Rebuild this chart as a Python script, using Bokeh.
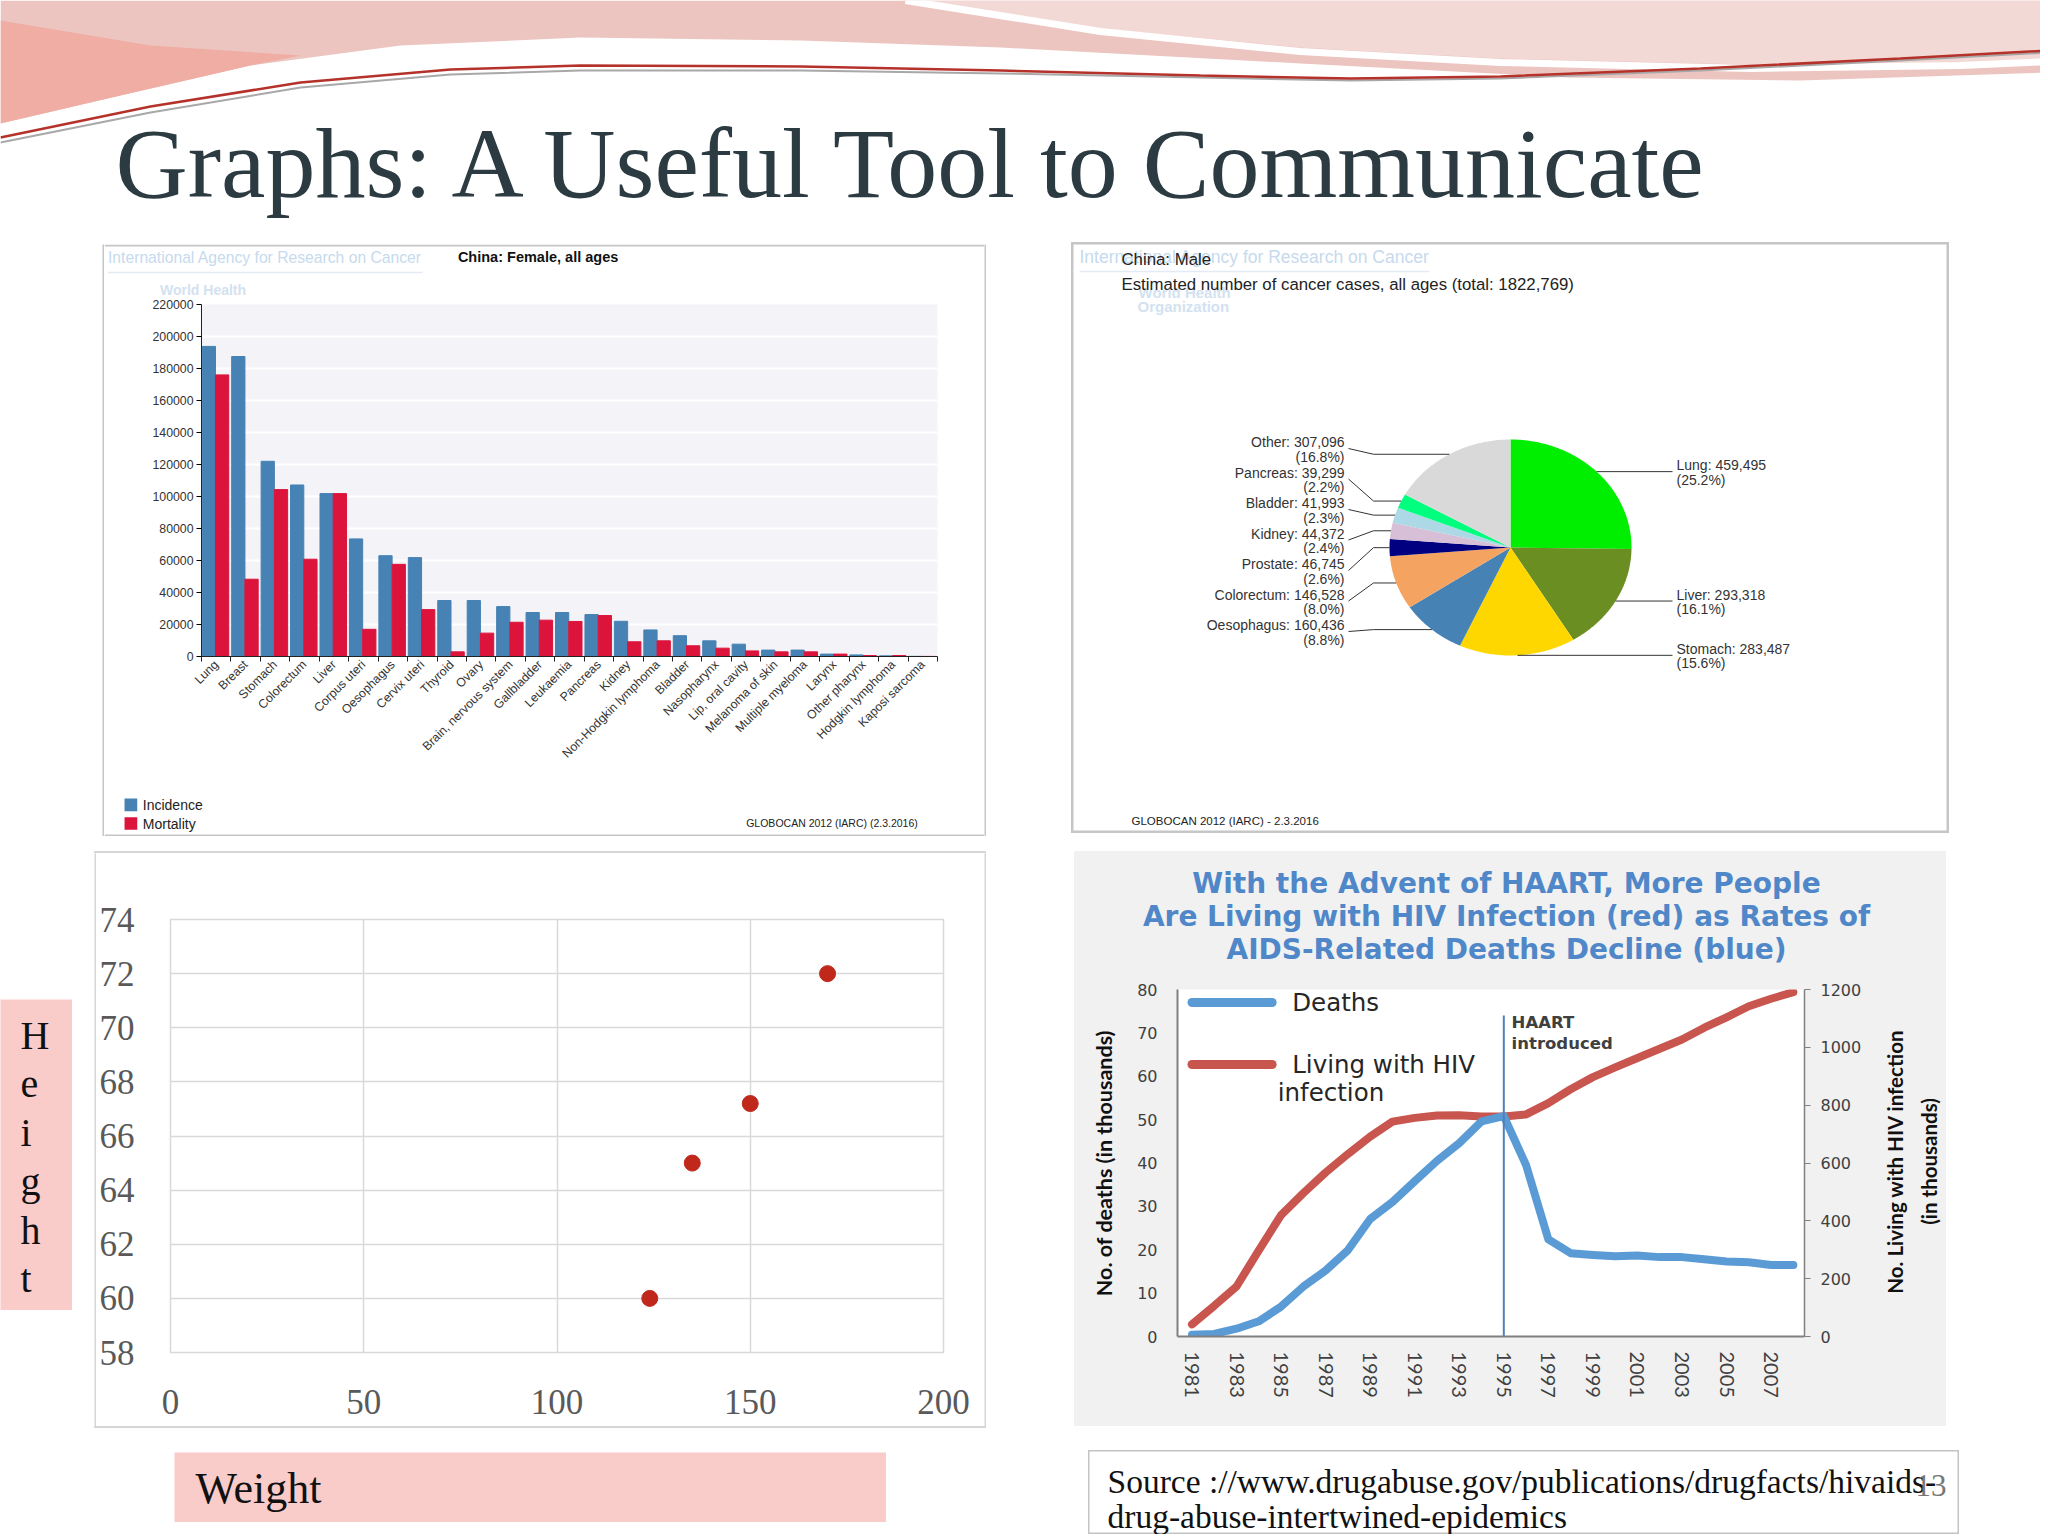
import numpy as np
from bokeh.plotting import figure
from bokeh.models import (Range1d, FixedTicker, CustomJSTickFormatter, NumeralTickFormatter,
                          LinearAxis, Spacer)
from bokeh.layouts import row, column
from bokeh.core.properties import value
from bokeh.embed import file_html
from bokeh.resources import INLINE

SANS = "Liberation Sans"
SERIF = "Liberation Serif"

# ---------------- data ----------------
slide_title = ["Graphs: A Useful Tool to Communicate"]

bar_categories = ["Lung", "Breast", "Stomach", "Colorectum", "Liver", "Corpus uteri", "Oesophagus",
                  "Cervix uteri", "Thyroid", "Ovary", "Brain, nervous system", "Gallbladder",
                  "Leukaemia", "Pancreas", "Kidney", "Non-Hodgkin lymphoma", "Bladder",
                  "Nasopharynx", "Lip, oral cavity", "Melanoma of skin", "Multiple myeloma",
                  "Larynx", "Other pharynx", "Hodgkin lymphoma", "Kaposi sarcoma"]
bar_incidence = [193800, 187500, 122000, 107200, 101800, 73500, 63000, 61800, 35000, 35000,
                 31200, 27500, 27500, 26200, 22000, 16600, 13000, 9800, 7700, 4000, 4000,
                 1500, 1000, 400, 100]
bar_mortality = [176000, 48300, 104300, 60800, 101800, 17000, 57600, 29300, 2900, 14600,
                 21400, 22700, 21900, 25600, 9200, 9800, 6700, 5200, 3500, 2900, 2900,
                 1500, 600, 600, 50]
bar_yticks = [0, 20000, 40000, 60000, 80000, 100000, 120000, 140000, 160000, 180000, 200000, 220000]
bar_series = ["Incidence", "Mortality"]
bar_colors = ["#4682b4", "#dc143c"]

pie_sites = ["Lung", "Liver", "Stomach", "Oesophagus", "Colorectum", "Prostate", "Kidney",
             "Bladder", "Pancreas", "Other"]
pie_cases = [459495, 293318, 283487, 160436, 146528, 46745, 44372, 41993, 39299, 307096]
pie_colors = ["#00ee00", "#6b8e23", "#ffd700", "#4682b4", "#f4a460", "#000080", "#d8bfd8",
              "#add8e6", "#00ff7f", "#d9d9d9"]
pie_total_text = "1822,769"

scatter_weight = [124, 135, 150, 170]
scatter_height = [60, 65, 67.2, 72]
scatter_xticks = [0, 50, 100, 150, 200]
scatter_yticks = [58, 60, 62, 64, 66, 68, 70, 72, 74]

hiv_years = [1981, 1982, 1983, 1984, 1985, 1986, 1987, 1988, 1989, 1990, 1991, 1992, 1993, 1994,
             1995, 1996, 1997, 1998, 1999, 2000, 2001, 2002, 2003, 2004, 2005, 2006, 2007, 2008]
hiv_deaths = [0.4, 0.6, 1.8, 3.5, 6.9, 11.5, 15.2, 19.9, 27.1, 31.0, 35.8, 40.5, 44.6, 49.6,
              50.8, 39.5, 22.4, 19.2, 18.8, 18.5, 18.7, 18.3, 18.3, 17.8, 17.3, 17.1, 16.5, 16.5]
hiv_living = [42, 106, 173, 298, 420, 496, 567, 631, 691, 743, 756, 764, 765, 761,
              761, 768, 807, 855, 897, 931, 963, 995, 1027, 1068, 1104, 1142, 1168, 1191]
hiv_year_ticks = [1981, 1983, 1985, 1987, 1989, 1991, 1993, 1995, 1997, 1999, 2001, 2003, 2005, 2007]
hiv_left_ticks = [0, 10, 20, 30, 40, 50, 60, 70, 80]
hiv_right_ticks = [0, 200, 400, 600, 800, 1000, 1200]
hiv_title = ["With the Advent of HAART, More People",
             "Are Living with HIV Infection (red) as Rates of",
             "AIDS-Related Deaths Decline (blue)"]
haart_year = [1995]
haart_top = [74]

source_lines = ["Source ://www.drugabuse.gov/publications/drugfacts/hivaids-",
                "drug-abuse-intertwined-epidemics"]
page_number = ["13"]


def noalign(p):
    if "frame_align" in p.properties():
        p.frame_align = False
    return p


def blank(w, h, bg="white", outline=None, ow=1):
    """Figure whose frame is the whole canvas, in pixel units with y downward."""
    p = figure(width=w, height=h, x_range=Range1d(0, w), y_range=Range1d(h, 0),
               x_axis_type=None, y_axis_type=None, toolbar_location=None,
               output_backend="svg", min_border=0, background_fill_color=bg,
               border_fill_color=bg, outline_line_color=outline, outline_line_width=ow)
    return noalign(p)


def hrule(w, color):
    return Spacer(width=w, height=2, styles={"background-color": color})


def stext(p, x, y, t, size, color="#222222", font=SANS, style="normal", align="left",
          baseline="middle", angle=0.0):
    p.text(x=[x], y=[y], text=[t], text_font=value(font), text_font_size=size,
           text_color=color, text_font_style=style, text_align=align,
           text_baseline=baseline, angle=angle)


# ---------------- header ----------------
hdr = blank(2040, 240)
hdr.patch([0, 2048, 2048, 1800, 1568, 1300, 1000, 800, 580, 400, 250, 120, 0],
          [0, 0, 72, 80, 77, 63, 47, 40, 37, 45, 65, 95, 123],
          color="#ecc5c1", line_color=None)
hdr.patch([0, 150, 300, 250, 120, 0], [20, 45, 55, 65, 95, 123],
          color="#f1a89e", line_color=None, alpha=0.85)
hdr.patch([900, 2048, 2048, 1960, 1750, 1500, 1300, 1100],
          [0, 0, 58, 62, 64, 58, 47, 28], color="#f3d9d5", line_color=None)
hdr.line([905, 1100, 1300, 1500, 1750, 1960, 2048], [0, 31, 51, 62, 68, 65, 61],
         line_color="white", line_width=7)
hdr.line([0, 150, 300, 450, 580, 800, 1000, 1200, 1350, 1500, 1700, 1900, 2048],
         [142, 112, 87, 74, 70, 70, 73, 77, 80, 78, 70, 60, 52],
         line_color="#a8a8a8", line_width=2)
hdr.line([0, 150, 300, 450, 580, 800, 1000, 1200, 1350, 1500, 1700, 1900, 2048],
         [137, 106, 82, 69, 65, 66, 70, 75, 78, 76, 68, 58, 50],
         line_color="#b5322b", line_width=2.5)
hdr.text(x=[115], y=[163], text=slide_title, text_font=value(SERIF), text_font_size="100px",
         text_color="#2c3b42", text_baseline="middle", text_align="left")

# ---------------- bar chart (China female) ----------------
BCOL = "#c6c6c6"
bar_top = blank(880, 54)
bar_top.quad(left=[0], right=[880], top=[0], bottom=[2], color=BCOL, line_color=None)
stext(bar_top, 3.5, 12.7, "International Agency for Research on Cancer", "15.7px", color="#c6daed")
bar_top.line([3.5, 318], [28, 28], line_color="#e3ecf5", line_width=1.5)
stext(bar_top, 55.5, 45, "World Health", "14px", color="#d3e2f0", style="bold")
stext(bar_top, 353.4, 12.7, "China: Female, all ages", "14.5px", color="#111111", style="bold")

bar = figure(width=880, height=470, x_range=Range1d(0, 25), y_range=Range1d(0, 220000),
             min_border_left=97, min_border_right=47, min_border_top=6, min_border_bottom=110,
             toolbar_location=None, output_backend="svg", background_fill_color="#f4f3f7",
             border_fill_color="white", outline_line_color=None)
noalign(bar)
idx = np.arange(len(bar_categories))
bar.vbar(x=idx + 0.25, top=bar_incidence, width=0.45, color=bar_colors[0])
bar.vbar(x=idx + 0.70, top=bar_mortality, width=0.45, color=bar_colors[1])
bar.xgrid.visible = False
bar.ygrid.ticker = FixedTicker(ticks=bar_yticks)
bar.ygrid.grid_line_color = "white"
bar.ygrid.grid_line_width = 2
bar.xaxis.ticker = FixedTicker(ticks=list(idx + 0.5), minor_ticks=list(range(len(bar_categories) + 1)))
bar.xaxis.formatter = CustomJSTickFormatter(
    args=dict(labels=bar_categories),
    code="const i = Math.floor(tick); return (i >= 0 && i < labels.length) ? labels[i] : '';")
bar.xaxis.major_label_orientation = np.pi / 4
bar.xaxis.major_tick_line_color = None
bar.xaxis.major_tick_out = 5
bar.xaxis.major_tick_in = 0
bar.xaxis.minor_tick_line_color = "#222222"
bar.xaxis.minor_tick_out = 5
bar.xaxis.minor_tick_in = 0
bar.xaxis.major_label_standoff = 1
bar.yaxis.ticker = FixedTicker(ticks=bar_yticks)
bar.yaxis.formatter = NumeralTickFormatter(format="0")
bar.yaxis.major_tick_out = 5
bar.yaxis.major_tick_in = 0
bar.yaxis.minor_tick_line_color = None
bar.yaxis.major_label_standoff = 3
for ax in (bar.xaxis, bar.yaxis):
    ax.axis_line_color = "#222222"
    ax.major_label_text_font = SANS
    ax.major_label_text_font_size = "12.3px"
    ax.major_label_text_color = "#333333"

bar_foot = blank(880, 68)
bar_foot.quad(left=[0], right=[880], top=[66], bottom=[68], color=BCOL, line_color=None)
bar_foot.rect(x=[26.4, 26.4], y=[36.4, 55], width=12.7, height=12.7, fill_color=bar_colors,
              line_color=None)
bar_foot.text(x=[38.3, 38.3], y=[36.4, 55], text=bar_series, text_font=value(SANS),
              text_font_size="14px", text_color="#222222", text_baseline="middle")
stext(bar_foot, 641.7, 54.3, "GLOBOCAN 2012 (IARC) (2.3.2016)", "10.5px", color="#222222")

bar_panel = row(blank(2, 592, bg=BCOL), column(bar_top, bar, bar_foot), blank(2, 592, bg=BCOL))

# ---------------- pie chart (China male) ----------------
pie = blank(878, 591, outline=BCOL, ow=4)
cx, cy, rx, ry = 439.0, 305.0, 121.0, 108.0
vals = np.array(pie_cases, dtype=float)
fr = vals / vals.sum()
cum = np.concatenate([[0.0], np.cumsum(fr)])
xs, ys, mids = [], [], []
for i in range(len(vals)):
    th = np.radians(90 - 360 * np.linspace(cum[i], cum[i + 1], 80))
    xs.append(np.concatenate([[cx], cx + rx * np.cos(th)]))
    ys.append(np.concatenate([[cy], cy - ry * np.sin(th)]))
    mids.append(np.radians(90 - 360 * (cum[i] + cum[i + 1]) / 2))
pie.patches(xs, ys, fill_color=pie_colors, line_color=None)
ex = [cx + rx * np.cos(m) for m in mids]
ey = [cy - ry * np.sin(m) for m in mids]
txt = [f"{s}: {v:,}\n({100 * f:.1f}%)" for s, v, f in zip(pie_sites, pie_cases, fr)]
left = sorted([i for i in range(len(vals)) if np.cos(mids[i]) < 0], key=lambda i: ey[i])
right = [i for i in range(len(vals)) if np.cos(mids[i]) >= 0]
lx, ly, lt, lxs, lys = [], [], [], [], []
for k, i in enumerate(left):
    y1 = 199 + 30.5 * k
    lx.append(273); ly.append(y1 - 7.5); lt.append(txt[i])
    lxs.append([277, 302, ex[i]]); lys.append([y1 + 7, ey[i], ey[i]])
rx_, ry_, rt = [], [], []
for i in right:
    rx_.append(605); ry_.append(ey[i] - 7 - 7.5); rt.append(txt[i])
    lxs.append([ex[i], 601]); lys.append([ey[i], ey[i]])
pie.multi_line(lxs, lys, line_color="#333333", line_width=1)
pie.text(x=lx, y=ly, text=lt, text_font=value(SANS), text_font_size="14px",
         text_color="#333333", text_align="right", text_baseline="top", text_line_height=0.91)
pie.text(x=rx_, y=ry_, text=rt, text_font=value(SANS), text_font_size="14px",
         text_color="#333333", text_align="left", text_baseline="top", text_line_height=0.91)
stext(pie, 8, 14, "International Agency for Research on Cancer", "17.5px", color="#c6daed")
pie.line([8, 358], [29, 29], line_color="#e3ecf5", line_width=1.5)
pie.text(x=[67, 66], y=[50, 64], text=["World Health", "Organization"], text_font=value(SANS),
         text_font_size="15px", text_font_style="bold", text_color="#d3e2f0", text_baseline="middle")
pie.text(x=[50, 50], y=[17, 42],
         text=["China: Male", f"Estimated number of cancer cases, all ages (total: {pie_total_text})"],
         text_font=value(SANS), text_font_size="16.8px", text_color="#222222", text_baseline="middle")
stext(pie, 60, 578, "GLOBOCAN 2012 (IARC) - 2.3.2016", "11.5px", color="#222222")

# ---------------- scatter (Weight vs Height) ----------------
SCOL = "#d6d6d6"
sc = figure(width=888, height=573, x_range=Range1d(0, 200), y_range=Range1d(58, 74),
            min_border_left=73, min_border_right=41, min_border_top=66, min_border_bottom=74,
            toolbar_location=None, output_backend="svg", background_fill_color="white",
            border_fill_color="white", outline_line_color="#d9d9d9", outline_line_width=1.5)
noalign(sc)
sc.xaxis.ticker = FixedTicker(ticks=scatter_xticks)
sc.yaxis.ticker = FixedTicker(ticks=scatter_yticks)
sc.xgrid.ticker = FixedTicker(ticks=scatter_xticks)
sc.ygrid.ticker = FixedTicker(ticks=scatter_yticks)
for g in (sc.xgrid, sc.ygrid):
    g.grid_line_color = "#d9d9d9"
    g.grid_line_width = 1.5
for ax in (sc.xaxis, sc.yaxis):
    ax.axis_line_color = None
    ax.major_tick_line_color = None
    ax.minor_tick_line_color = None
    ax.major_tick_out = 0
    ax.major_label_text_font = SERIF
    ax.major_label_text_font_size = "35px"
    ax.major_label_text_color = "#595959"
sc.xaxis.major_label_standoff = 37
sc.yaxis.major_label_standoff = 36
sc.scatter(scatter_weight, scatter_height, size=16, color="#c0281c")
sc_panel = column(hrule(892, SCOL),
                  row(blank(2, 573, bg=SCOL), sc, blank(2, 573, bg=SCOL)),
                  hrule(892, SCOL))

# ---------------- HIV chart ----------------
HBG = "#f1f1f1"
hiv_top = blank(872, 126, bg=HBG)
hiv_top.text(x=[432, 432, 432], y=[31.5, 64.8, 98], text=hiv_title, text_font=value("DejaVu Sans"),
             text_font_size="28px", text_font_style="bold", text_color="#4f87c8",
             text_align="center", text_baseline="middle")
hiv_left = blank(56, 449, bg=HBG)
stext(hiv_left, 29, 183, "No. of deaths  (in thousands)", "21.5px", color="#111111", font="Lato",
      style="bold", align="center", angle=np.pi / 2)
hiv_right = blank(75, 449, bg=HBG)
stext(hiv_right, 23, 184, "No. Living with HIV infection", "20.5px", color="#111111", font="Lato",
      style="bold", align="center", angle=np.pi / 2)
stext(hiv_right, 57, 184, "(in thousands)", "20.5px", color="#111111", font="Lato",
      style="bold", align="center", angle=np.pi / 2)

hiv = figure(width=741, height=449, x_range=Range1d(1980.35, 2008.5), y_range=Range1d(0, 80),
             min_border_left=47, min_border_right=67, min_border_top=12, min_border_bottom=90,
             toolbar_location=None, output_backend="svg", background_fill_color="white",
             border_fill_color=HBG, outline_line_color=None)
noalign(hiv)
hiv.extra_y_ranges = {"right": Range1d(0, 1200)}
hiv.grid.visible = False
hiv.xaxis.ticker = FixedTicker(ticks=hiv_year_ticks)
hiv.xaxis.major_label_orientation = "vertical"
hiv.xaxis.major_label_text_font = "Lato"
hiv.xaxis.major_label_text_font_size = "20px"
hiv.xaxis.major_label_standoff = 15
hiv.yaxis.ticker = FixedTicker(ticks=hiv_left_ticks)
hiv.yaxis.major_label_text_font = "DejaVu Sans"
hiv.yaxis.major_label_text_font_size = "16px"
hiv.yaxis.major_label_standoff = 20
rax = LinearAxis(y_range_name="right", ticker=FixedTicker(ticks=hiv_right_ticks))
rax.major_label_text_font = "DejaVu Sans"
rax.major_label_text_font_size = "16px"
rax.major_label_standoff = 10
hiv.add_layout(rax, "right")
for ax in (hiv.xaxis[0], hiv.yaxis[0]):
    ax.major_tick_out = 0
    ax.major_tick_in = 0
    ax.major_tick_line_color = None
for ax in (hiv.xaxis[0], hiv.yaxis[0], rax):
    ax.minor_tick_line_color = None
    ax.axis_line_color = "#808080"
    ax.axis_line_width = 2
    ax.major_label_text_color = "#404040"
rax.major_tick_out = 6
rax.major_tick_in = 0
rax.major_tick_line_color = "#808080"
rax.axis_line_width = 1.5
hiv.line(hiv_years, hiv_living, y_range_name="right", line_color="#c9554f", line_width=8,
         line_cap="round", line_join="round")
hiv.line(hiv_years, hiv_deaths, line_color="#5b9bd5", line_width=8, line_cap="round",
         line_join="round")
hiv.segment(x0=haart_year, y0=[0], x1=haart_year, y1=haart_top, line_color="#4f81bd", line_width=2)
hiv.text(x=[1995.35], y=[74.6], text=["HAART\nintroduced"], text_font=value("DejaVu Sans"),
         text_font_size="16.5px", text_font_style="bold", text_color="#404040",
         text_baseline="top", text_line_height=1.1)
hiv.segment(x0=[1981.0, 1981.0], y0=[77.0, 62.7], x1=[1984.6, 1984.6], y1=[77.0, 62.7],
            line_color=["#5b9bd5", "#c9554f"], line_width=9, line_cap="round")
hiv.text(x=[1985.5, 1985.5, 1984.85], y=[77.0, 62.7, 56.3],
         text=["Deaths", "Living with HIV", "infection"], text_font=value("DejaVu Sans"),
         text_font_size="24.5px", text_color="#262626", text_baseline="middle")
hiv_panel = column(hiv_top, row(hiv_left, hiv, hiv_right, styles={"background-color": HBG}),
                   styles={"background-color": HBG})

# ---------------- axis-title boxes & source ----------------
hb = blank(72, 311, bg="#f9cbc9")
hb.text(x=[20], y=[13], text=["H\ne\ni\ng\nh\nt"], text_font=value(SERIF), text_font_size="40px",
        text_color="#111111", text_baseline="top", text_line_height=1.084)

wb = blank(712, 70, bg="#f9cbc9")
stext(wb, 21, 36, "Weight", "44px", color="#111111", font=SERIF)

src = blank(871, 84, outline="#c4c4c4", ow=2)
src.text(x=[19, 19], y=[31, 66], text=source_lines, text_font=value(SERIF), text_font_size="33.5px",
         text_color="#111111", text_baseline="middle")
src.text(x=[858], y=[35], text=page_number, text_font=value(SERIF), text_font_size="31px",
         text_color="#777777", text_baseline="middle", text_align="right")

# ---------------- layout ----------------
row2 = row(Spacer(width=102, height=605),
           column(Spacer(width=884, height=4), bar_panel, Spacer(width=884, height=9)),
           Spacer(width=85, height=605),
           column(Spacer(width=878, height=2), pie))
row3 = row(column(Spacer(width=72, height=154), hb),
           Spacer(width=22, height=595),
           column(Spacer(width=892, height=6), sc_panel, Spacer(width=892, height=12)),
           Spacer(width=88, height=595),
           column(Spacer(width=872, height=6), hiv_panel))
row4 = row(Spacer(width=174, height=94),
           column(Spacer(width=712, height=12), wb),
           Spacer(width=202, height=94),
           column(Spacer(width=871, height=10), src))
layout = column(hdr, row2, row3, row4)

open("out.html", "w").write(file_html(layout, INLINE, title="Graphs"))
